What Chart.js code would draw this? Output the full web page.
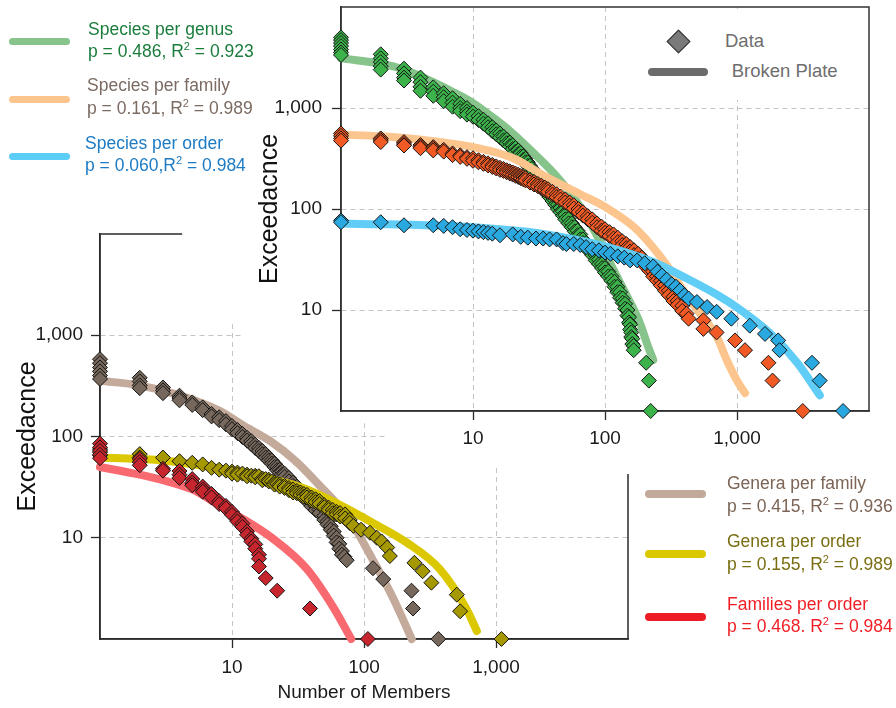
<!DOCTYPE html>
<html>
<head>
<meta charset="utf-8">
<script src="https://cdn.jsdelivr.net/npm/chart.js@4.4.1/dist/chart.umd.min.js"></script>
<style>
  html, body { margin: 0; padding: 0; background: #fff; }
  #page { position: relative; width: 896px; height: 708px; overflow: hidden; font-family: "Liberation Sans", Arial, sans-serif; }
  canvas { position: absolute; left: 0; top: 0; }
  .key { position: absolute; height: 8px; border-radius: 4px; }
  .txt { position: absolute; font-size: 17.5px; line-height: 22.5px; white-space: nowrap; }
  .txt sup { font-size: 11px; line-height: 0; vertical-align: 7px; }
  .big { position: absolute; font-size: 18.5px; line-height: 20px; color: #6e6e6e; white-space: nowrap; }
</style>
</head>
<body>
<div id="page">
  <canvas id="lower" width="896" height="708"></canvas>
  <canvas id="upper" width="896" height="708"></canvas>

  <!-- upper plot legend (left side) -->
  <div class="key" style="left:9px;top:38px;width:61px;height:7px;background:#86c48b"></div>
  <div class="txt" style="left:88px;top:17.7px;color:#1b7d3c">Species per genus<br>p = 0.486, R<sup>2</sup> = 0.923</div>
  <div class="key" style="left:9px;top:95.5px;width:61px;height:7px;background:#fdc58e"></div>
  <div class="txt" style="left:87px;top:74.4px;color:#7b6b62">Species per family<br>p = 0.161, R<sup>2</sup> = 0.989</div>
  <div class="key" style="left:9px;top:153px;width:61px;height:7px;background:#5bcdf6"></div>
  <div class="txt" style="left:85px;top:131.7px;color:#1c7bc4">Species per order<br>p = 0.060,R<sup>2</sup> = 0.984</div>

  <!-- upper plot key box -->
  <div style="position:absolute;left:615px;top:9px;width:252px;height:91px;background:#fff"></div>
  <div style="position:absolute;left:669.8px;top:33.2px;width:17px;height:17px;box-sizing:border-box;background:#7a7a7a;border:1px solid #333;transform:rotate(45deg)"></div>
  <div class="big" style="left:725px;top:30.9px">Data</div>
  <div class="key" style="left:648px;top:67.7px;width:60px;background:#6b6b6b"></div>
  <div class="big" style="left:731.7px;top:60.9px">Broken Plate</div>

  <!-- lower plot legend -->
  <div class="key" style="left:645px;top:490.3px;width:61px;background:#c3a99a"></div>
  <div class="txt" style="left:727px;top:472px;color:#7c6456">Genera per family<br>p = 0.415, R<sup>2</sup> = 0.936</div>
  <div class="key" style="left:645px;top:550.3px;width:61px;background:#dcc800"></div>
  <div class="txt" style="left:727px;top:530px;color:#7a6e12">Genera per order<br>p = 0.155, R<sup>2</sup> = 0.989</div>
  <div class="key" style="left:645px;top:612.7px;width:61px;background:#ed1c24"></div>
  <div class="txt" style="left:727px;top:592.7px;color:#f01f26">Families per order<br>p = 0.468. R<sup>2</sup> = 0.984</div>
</div>

<script>
// ---- axis ticks ----
const X_TICKS = [10, 100, 1000];
const X_TICK_LABELS = ['10', '100', '1,000'];
const Y_TICKS = [10, 100, 1000];
const Y_TICK_LABELS = ['10', '100', '1,000'];

// ---- upper plot: species per genus / family / order  ([members, exceedance]) ----
const genusPts = [
  [1, 5000], [1, 4700], [1, 4400], [1, 4100], [1, 3800], [1, 3550], [1, 3350],
  [2, 3400], [2, 3100], [2, 2850], [2, 2600], [2, 2400],
  [3, 2450], [3, 2200], [3, 2000], [3, 1870], [4, 2000], [4, 1800], [4, 1620], [4, 1480],
  [5, 1600], [5, 1450], [5, 1320], [6, 1400], [6, 1280], [6, 1170],
  [7, 1250], [7, 1130], [7, 1030], [8, 1100], [8, 1000], [8, 930], [9, 1000], [9, 920], [9, 860],
  [10, 900], [10, 820], [11, 830], [11, 760], [12, 765], [12, 700], [13, 705], [13, 645],
  [14, 645], [14, 590], [15, 600], [15, 550], [16, 560], [16, 512], [17, 522], [17, 478],
  [18, 487], [18, 448], [19, 455], [19, 418], [20, 428], [20, 392], [21, 402], [21, 370],
  [22, 380], [22, 350], [23, 358], [23, 330], [24, 332], [24, 306], [25, 314], [25, 290],
  [26, 290], [26, 266], [27, 268], [27, 246], [28, 250], [28, 228], [29, 232], [29, 212],
  [30, 218], [30, 198], [32, 195], [32, 176], [34, 176], [34, 160], [36, 158], [36, 143],
  [38, 144], [38, 131], [40, 132], [40, 120], [42, 121], [42, 110], [44, 110], [44, 100],
  [46, 102], [46, 93], [48, 95], [48, 86], [50, 87], [50, 79], [53, 80], [53, 72],
  [56, 72], [56, 66], [59, 66], [59, 60], [62, 61], [62, 55], [65, 56], [65, 50],
  [68, 50], [68, 46], [72, 46], [72, 42], [76, 42], [76, 38], [80, 39], [80, 35],
  [85, 35], [85, 31], [90, 31.5], [90, 28.5], [95, 28.5], [95, 26], [100, 26], [100, 23.5],
  [106, 24], [106, 21.5], [112, 21.5], [112, 19.5], [118, 19], [118, 17], [124, 17], [124, 15],
  [130, 15], [130, 13.2], [136, 13], [136, 11.8], [142, 11.5], [142, 10.3], [148, 10], [148, 8.8],
  [152, 8.5], [152, 7.5], [155, 7.2], [155, 6.4], [158, 6], [158, 5.4], [161, 5.2], [161, 4.6],
  [165, 4.4], [165, 4], [205, 3], [215, 2], [222, 1]
];
const genusFit = [
  [1, 3100], [2, 2750], [3, 2400], [5, 1800], [7, 1450], [10, 1120], [15, 760],
  [20, 560], [30, 340], [43, 210], [65, 105], [90, 50], [116, 25], [150, 13],
  [184, 7.4], [210, 4.5], [232, 3.2]
];

const familyPts = [
  [1, 560], [1, 530], [1, 500], [1, 475], [2, 500], [2, 480], [2, 460],
  [3, 460], [3, 440], [3, 425], [4, 430], [4, 415], [4, 400], [5, 410], [5, 395], [5, 380],
  [6, 385], [6, 370], [7, 355], [7, 342], [8, 340], [8, 328], [9, 326], [9, 314],
  [10, 318], [10, 300], [11, 304], [11, 290], [12, 293], [12, 280], [13, 283], [13, 270],
  [14, 273], [14, 261], [15, 264], [15, 252], [16, 256], [16, 244], [17, 249], [17, 238],
  [18, 242], [18, 231], [19, 236], [19, 225], [20, 230], [20, 219], [21, 224], [21, 213],
  [22, 218], [22, 208], [23, 212], [23, 202], [24, 207], [24, 197], [25, 202], [25, 192],
  [27, 193], [27, 183], [29, 185], [29, 175], [31, 177], [31, 168], [33, 170], [33, 161],
  [35, 163], [35, 154], [37, 157], [37, 148], [40, 148], [40, 139], [43, 140], [43, 131],
  [46, 133], [46, 124], [50, 124], [50, 116], [54, 116], [54, 108], [58, 109], [58, 101],
  [63, 100], [63, 93], [68, 93], [68, 86], [74, 85], [74, 79], [80, 79], [80, 73],
  [87, 72], [87, 66], [94, 67], [94, 61], [100, 63], [100, 58], [108, 59], [108, 54],
  [116, 56], [116, 51], [125, 52], [125, 47], [135, 48], [135, 44], [145, 45], [145, 41],
  [155, 42], [155, 38], [166, 39], [166, 35], [178, 36], [178, 32], [190, 33], [190, 30],
  [203, 30], [203, 27], [217, 27], [217, 24.5], [232, 24], [232, 21.5], [248, 21.5], [248, 19.5],
  [265, 19.5], [265, 17.5], [285, 17.5], [285, 15.5], [305, 15.5], [305, 14],
  [330, 13.5], [330, 12.3], [355, 12.3], [355, 11.2], [385, 11], [385, 9.8], [415, 9.2], [430, 8.2],
  [556, 7.9], [556, 6.5], [700, 6], [966, 5], [1150, 4], [1730, 3], [1860, 2], [3150, 1]
];
const familyFit = [
  [1, 545], [2, 525], [3, 505], [5, 470], [10, 410], [20, 320], [36, 207], [65, 140],
  [100, 105], [164, 67], [220, 45], [293, 28], [400, 15], [525, 9.2], [700, 5.5],
  [836, 3.2], [1000, 2], [1150, 1.5]
];

const orderPts = [
  [1, 77], [1, 74], [2, 74], [3, 69], [5, 69], [6, 68], [7, 66], [8, 63], [9, 62], [10, 61],
  [11, 60], [12, 59], [13, 58], [14, 57], [16, 55], [20, 56], [23, 53], [26, 52], [30, 51],
  [34, 51], [38, 50], [43, 50], [48, 46], [51, 45], [58, 45], [65, 44], [72, 42], [80, 40],
  [90, 39], [100, 37], [110, 36], [125, 34], [140, 33], [155, 31], [175, 31], [200, 29],
  [232, 27], [250, 24], [270, 22], [293, 20], [320, 18], [345, 17], [370, 15.6], [400, 14],
  [430, 13], [497, 12], [594, 10.7], [701, 9.6], [906, 8.2], [1250, 7], [1630, 5.8],
  [2050, 5], [2100, 4], [3700, 3], [4230, 2], [6360, 1]
];
const orderFit = [
  [1, 72], [10, 66], [33, 57], [98, 43], [229, 30], [414, 20.6], [737, 13.7],
  [1000, 10.6], [1778, 5.9], [2858, 3], [4240, 1.43]
];

// ---- lower plot: genera per family / genera per order / families per order ----
const gpfPts = [
  [1, 580], [1, 530], [1, 480], [1, 440], [1, 400], [1, 370],
  [2, 380], [2, 350], [2, 320], [2, 300], [3, 305], [3, 285], [3, 268],
  [4, 253], [4, 240], [4, 228], [5, 217], [5, 205], [6, 194], [6, 182], [7, 167], [7, 158],
  [8, 155], [8, 145], [9, 142], [9, 132], [10, 127], [10, 118], [11, 116], [11, 108],
  [12, 106], [12, 99], [13, 97], [13, 91], [14, 90], [14, 84], [15, 83], [15, 77],
  [16, 77], [16, 72], [17, 72], [17, 67], [18, 67], [18, 62], [19, 62], [19, 58],
  [20, 58], [20, 54], [21, 54], [21, 50], [22, 50], [22, 46.5], [23, 47], [23, 44],
  [24, 45], [24, 42], [25, 43], [25, 40], [27, 39], [27, 36], [29, 35], [29, 32.5],
  [31, 32], [31, 29.5], [33, 29.5], [33, 27], [35, 27.5], [35, 25], [37, 25.5], [37, 23],
  [40, 22.5], [40, 20.5], [43, 20.5], [43, 18.8], [46, 19], [46, 17.5], [50, 16.5], [50, 15],
  [53, 14.5], [53, 13.5], [56, 13], [56, 12], [59, 11.5], [59, 10.5], [62, 10], [62, 9],
  [65, 8.7], [65, 7.8], [68, 7.4], [68, 6.8], [71, 6.5], [74, 6],
  [117, 5], [140, 3.9], [229, 3], [235, 2], [366, 1]
];
const gpfFit = [
  [1, 355], [2, 320], [4, 255], [8, 180], [12, 130], [20, 88], [30, 58], [44, 35],
  [78, 15], [117, 6], [167, 2.5], [230, 1]
];

const gpoPts = [
  [1, 75], [1, 70], [1, 65], [2, 67], [2, 62], [3, 62], [4, 57], [5, 55], [6, 53], [7, 49],
  [8, 47], [9, 46], [10, 45], [10, 43], [11, 44], [11, 42], [12, 43], [13, 42], [13, 40.5],
  [14, 41], [15, 41], [15, 39.5], [16, 40.5], [17, 38.5], [17, 37], [18, 38], [19, 37.5],
  [19, 36], [20, 36], [21, 35], [21, 33.5], [22, 34], [23, 33.5], [23, 32], [25, 32.5],
  [25, 31], [27, 31], [27, 29.5], [29, 30], [29, 28], [31, 29], [31, 27.5], [33, 28],
  [33, 26.5], [35, 27], [35, 25.5], [37, 26.5], [37, 25], [40, 25], [40, 23.5], [43, 24],
  [43, 22.5], [46, 23], [46, 21.5], [50, 21], [50, 20], [54, 19.8], [54, 18.8], [58, 18.8],
  [58, 17.5], [62, 18], [62, 17], [66, 17.5], [66, 16.2], [72, 17], [72, 15.5], [78, 15],
  [78, 14], [83, 13.1], [95, 12], [111, 11.2], [125, 10], [136, 9.2], [150, 8], [157, 6.6],
  [241, 5.65], [278, 4.67], [324, 3.6], [505, 2.74], [535, 1.88], [1100, 1]
];
const gpoFit = [
  [1, 62], [3, 58], [10, 46], [20, 38], [37, 30], [66, 21], [117, 14], [210, 9],
  [375, 4.9], [595, 2], [716, 1.2]
];

const fpoPts = [
  [1, 85], [1, 78], [1, 72], [1, 66], [1, 61], [2, 60], [2, 56], [2, 52],
  [3, 48], [3, 46], [4, 45.6], [4, 42], [4, 39], [5, 38], [5, 35], [5, 33],
  [6, 32], [6, 30], [6, 28.5], [7, 27], [7, 25], [8, 23], [8, 21.5], [9, 20.6], [9, 19.5],
  [10, 18], [10, 16.8], [11, 15.5], [11, 14.5], [12, 13.8], [12, 12.8], [13, 11.5], [13, 10.7],
  [14, 9.8], [14, 9.2], [15, 8.6], [15, 7.8], [16, 6.8], [16, 6.2], [16, 5.2],
  [18, 4], [22, 3], [39, 2], [107, 1]
];
const fpoFit = [
  [1, 50], [2, 42], [3, 37], [5, 30], [8, 21], [11.5, 16], [20, 10], [37, 4.9], [58, 2.1], [80, 1]
];

const FONT = '"Liberation Sans", Arial, sans-serif';
const GRID = '#c4c4c4';
const AXIS = '#2a2a2a';

const toXY = pts => pts.map(([x, y]) => ({ x, y }));

function pointSet(pts, fill, order) {
  return {
    data: toXY(pts), showLine: false, order, clip: false,
    pointStyle: 'rectRot', pointRadius: 7.5,
    pointBackgroundColor: fill, pointBorderColor: '#151515', pointBorderWidth: 1
  };
}

function fitSet(pts, color, order) {
  return {
    data: toXY(pts), showLine: true, order, clip: false, fill: false,
    pointRadius: 0, borderColor: color, borderWidth: 8,
    borderCapStyle: 'round', borderJoinStyle: 'round', cubicInterpolationMode: 'monotone'
  };
}

// box round the plot area, and (lower plot) the white patch under the upper plot
const framePlugin = {
  id: 'frame',
  beforeDatasetsDraw(chart, args, opts) {
    const { ctx, chartArea: a } = chart;
    ctx.save();
    ctx.strokeStyle = opts.color;
    ctx.lineWidth = opts.width;
    ctx.strokeRect(a.left, a.top, a.right - a.left, a.bottom - a.top);
    if (opts.mask) {
      ctx.fillStyle = '#fff';
      ctx.beginPath();
      opts.mask.forEach(([x, y], i) => i ? ctx.lineTo(x, y) : ctx.moveTo(x, y));
      ctx.closePath();
      ctx.fill();
    }
    ctx.restore();
  }
};

function axes(yWidth, xHeight, yPad, xPad, xTitle) {
  const tickFont = { family: FONT, size: 19 };
  return {
    x: {
      type: 'logarithmic', position: 'bottom', min: 1, max: 10000,
      afterBuildTicks: s => { s.ticks = X_TICKS.map(v => ({ value: v })); },
      afterFit: s => { s.height = xHeight; s.paddingLeft = 0; s.paddingRight = 0; },
      grid: { color: GRID, lineWidth: 1, tickLength: 9, tickColor: AXIS, tickWidth: 1.3, tickBorderDash: [] },
      border: { display: true, color: AXIS, width: 1.5, dash: [5, 4] },
      ticks: {
        autoSkip: false, maxRotation: 0, padding: xPad, color: '#1a1a1a', font: tickFont,
        callback: v => X_TICK_LABELS[X_TICKS.indexOf(v)]
      },
      title: xTitle
        ? { display: true, text: xTitle, color: '#1a1a1a', font: { family: FONT, size: 19 }, padding: { top: 0, bottom: 4 } }
        : { display: false }
    },
    y: {
      type: 'logarithmic', position: 'left', min: 1, max: 10000,
      afterBuildTicks: s => { s.ticks = Y_TICKS.map(v => ({ value: v })); },
      afterFit: s => { s.width = yWidth; s.paddingTop = 0; s.paddingBottom = 0; },
      grid: { color: GRID, lineWidth: 1, tickLength: 9, tickColor: AXIS, tickWidth: 1.3, tickBorderDash: [] },
      border: { display: true, color: AXIS, width: 1.5, dash: [5, 4] },
      ticks: {
        autoSkip: false, padding: yPad, color: '#1a1a1a', font: tickFont,
        callback: v => Y_TICK_LABELS[Y_TICKS.indexOf(v)]
      },
      title: { display: true, text: 'Exceedacnce', color: '#111', font: { family: FONT, size: 25 }, padding: { top: 0, bottom: 0 } }
    }
  };
}

// lower plot (drawn first, partly covered by the upper one)
new Chart(document.getElementById('lower'), {
  type: 'scatter',
  data: {
    datasets: [
      fitSet(gpfFit, '#c4aa9a', 6),
      pointSet(gpfPts, '#76685c', 5),
      fitSet(gpoFit, '#dcc800', 4),
      pointSet(gpoPts, '#a59800', 3),
      fitSet(fpoFit, '#f86a6f', 2),
      pointSet(fpoPts, '#c8262e', 1)
    ]
  },
  options: {
    responsive: false, animation: false, events: [],
    layout: { autoPadding: false, padding: { left: 13, right: 268, top: 234, bottom: 0 } },
    scales: axes(87, 69, 8, 8.5, 'Number of Members'),
    plugins: {
      legend: { display: false }, tooltip: { enabled: false },
      frame: {
        color: AXIS, width: 1.5,
        mask: [[182, 0], [896, 0], [896, 474], [628, 474], [496, 465], [392, 440],
               [364, 423], [236, 330], [182, 234]]
      }
    }
  },
  plugins: [framePlugin]
});

// upper plot
new Chart(document.getElementById('upper'), {
  type: 'scatter',
  data: {
    datasets: [
      fitSet(genusFit, '#86c48b', 6),
      pointSet(genusPts, '#3bb34a', 5),
      fitSet(familyFit, '#fdc58e', 4),
      pointSet(familyPts, '#f15a24', 3),
      fitSet(orderFit, '#5fcdf6', 2),
      pointSet(orderPts, '#2aa9e0', 1)
    ]
  },
  options: {
    responsive: false, animation: false, events: [],
    layout: { autoPadding: false, padding: { left: 255, right: 27, top: 7, bottom: 257 } },
    scales: axes(86, 40, 10, 7, null),
    plugins: {
      legend: { display: false }, tooltip: { enabled: false },
      frame: { color: '#333', width: 1.5 }
    }
  },
  plugins: [framePlugin]
});
</script>
</body>
</html>
